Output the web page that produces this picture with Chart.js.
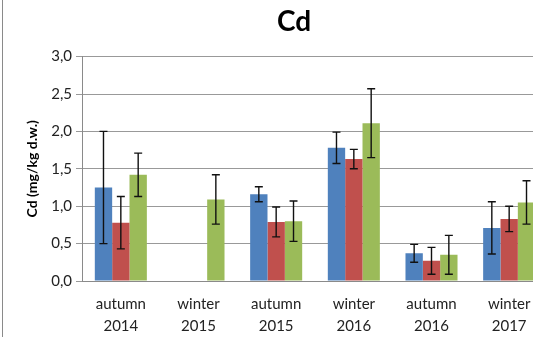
<!DOCTYPE html>
<html><head><meta charset="utf-8">
<script src="https://cdn.jsdelivr.net/npm/chart.js@4/dist/chart.umd.min.js"></script>
<style>
html,body{margin:0;padding:0;background:#fff;overflow:hidden;width:533px;height:337px;}
#wrap{position:absolute;left:0;top:0;width:580px;height:337px;}
#frame{position:absolute;left:2px;top:0;width:0;height:337px;border-left:1px solid #8a8a8a;}
</style></head>
<body>
<div id="wrap"><canvas id="c" width="580" height="337"></canvas></div>
<div id="frame"></div>
<script>
const categories = [["autumn","2014"],["winter","2015"],["autumn","2015"],["winter","2016"],["autumn","2016"],["winter","2017"]];
const seriesA = [1.25, null, 1.16, 1.78, 0.37, 0.71];
const seriesAErr = [0.75, null, 0.10, 0.21, 0.12, 0.35];
const seriesB = [0.78, null, 0.79, 1.63, 0.27, 0.83];
const seriesBErr = [0.35, null, 0.20, 0.13, 0.18, 0.17];
const seriesC = [1.42, 1.09, 0.80, 2.11, 0.35, 1.05];
const seriesCErr = [0.29, 0.33, 0.27, 0.46, 0.26, 0.29];
const yTicks = [0, 0.5, 1.0, 1.5, 2.0, 2.5, 3.0];

const errorBars = {
  id: 'errorBars',
  afterDatasetsDraw(chart) {
    const ctx = chart.ctx, y = chart.scales.y;
    chart.data.datasets.forEach((ds, di) => {
      const meta = chart.getDatasetMeta(di);
      meta.data.forEach((bar, i) => {
        const v = ds.data[i], e = ds.errors[i];
        if (v == null || e == null) return;
        const x = bar.x, yt = y.getPixelForValue(v + e), yb = y.getPixelForValue(v - e);
        ctx.save();
        ctx.strokeStyle = '#111'; ctx.lineWidth = 1.4;
        ctx.beginPath();
        ctx.moveTo(x, yt); ctx.lineTo(x, yb);
        ctx.moveTo(x - 4, yt); ctx.lineTo(x + 4, yt);
        ctx.moveTo(x - 4, yb); ctx.lineTo(x + 4, yb);
        ctx.stroke();
        ctx.restore();
      });
    });
  }
};

new Chart(document.getElementById('c'), {
  type: 'bar',
  data: {
    labels: categories,
    datasets: [
      {label: 'Series 1', data: seriesA, errors: seriesAErr, backgroundColor: '#4F81BD'},
      {label: 'Series 2', data: seriesB, errors: seriesBErr, backgroundColor: '#C0504D'},
      {label: 'Series 3', data: seriesC, errors: seriesCErr, backgroundColor: '#9BBB59'}
    ]
  },
  options: {
    responsive: false, animation: false, devicePixelRatio: 1,
    categoryPercentage: 0.67, barPercentage: 1.0,
    layout: {padding: {top: 5, right: 32, bottom: 0, left: 40}},
    plugins: {
      legend: {display: false}, tooltip: {enabled: false},
      title: {display: true, text: 'Cd', color: '#000',
        font: {family: 'Lato, "Open Sans", sans-serif', size: 28, weight: 'bold'},
        padding: {top: 0, bottom: 18}}
    },
    scales: {
      x: {
        grid: {display: false},
        border: {display: true, color: '#8a8a8a', width: 1},
        ticks: {color: '#222', font: {family: 'Lato, "Open Sans", sans-serif', size: 15, lineHeight: 1.47}, padding: 4, maxRotation: 0, autoSkip: false},
        afterFit: s => { s.height = 56; }
      },
      y: {
        min: 0, max: 3,
        afterBuildTicks: s => { s.ticks = yTicks.map(v => ({value: v})); },
        grid: {color: '#999', lineWidth: 1, drawTicks: true, tickLength: 6},
        border: {display: true, color: '#8a8a8a', width: 1},
        ticks: {color: '#222', font: {family: 'Lato, "Open Sans", sans-serif', size: 15}, padding: 4,
          callback: v => Number(v).toFixed(1).replace('.', ',')},
        title: {display: true, text: 'Cd (mg/kg d.w.)', color: '#000',
          font: {family: 'Lato, "Open Sans", sans-serif', size: 14, weight: 'bold'},
          padding: {top: -16, bottom: 0}},
        afterFit: s => { s.width = 42; }
      }
    }
  },
  plugins: [errorBars]
});
</script>
</body></html>
